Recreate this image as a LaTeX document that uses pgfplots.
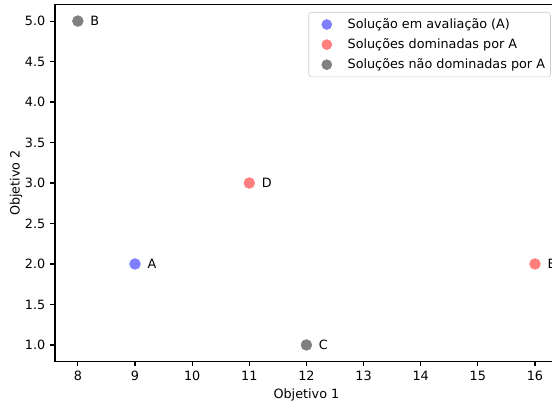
\documentclass[border=0pt]{standalone}
\usepackage{fontspec}
\setmainfont{DejaVu Sans}
\usepackage{pgfplots}
\pgfplotsset{compat=1.18}
\definecolor{cblue}{HTML}{7F7FFF}
\definecolor{cred}{HTML}{FF7F7F}
\definecolor{cgray}{HTML}{808080}
\begin{document}
\begin{tikzpicture}
\begin{axis}[
  scale only axis, width=362pt, height=256.5pt,
  xmin=7.6, xmax=16.4, ymin=0.8, ymax=5.2,
  xtick={8,9,...,16}, ytick={1,1.5,...,5},
  yticklabel style={/pgf/number format/.cd, fixed, fixed zerofill, precision=1},
  /pgf/number format/assume math mode=true,
  tick align=outside, tick pos=left, major tick length=3.5pt,
  tick style={black, line width=0.8pt},
  axis line style={black, line width=0.8pt},
  font=\fontsize{9.2}{11}\selectfont,
  xlabel={Objetivo 1}, ylabel={Objetivo 2},
  xlabel style={yshift=1pt}, ylabel style={yshift=-5pt},
  legend style={at={(0.986,0.980)}, anchor=north east, draw=black!20, rounded corners=2pt,
    fill=white, font=\fontsize{9.2}{11}\selectfont, inner xsep=2pt, inner ysep=2.5pt,
    row sep=1.8pt, /tikz/every odd column/.append style={column sep=2pt}},
  legend image code/.code={\path[draw=none,fill=none] (0pt,-3pt) rectangle (22pt,3pt);
    \fill (11pt,0pt) circle[radius=3.6pt];},
  legend cell align=left,
  nodes near coords={\pgfplotspointmeta},
  point meta=explicit symbolic,
  nodes near coords style={anchor=west, xshift=5.5pt, font=\fontsize{9.2}{11}\selectfont, text=black},
]
\addplot[only marks, mark=*, mark size=3.9pt, color=cblue] table[meta=label] {
x y label
9 2 A
};
\addlegendentry{Solução em avaliação (A)}
\addplot[only marks, mark=*, mark size=3.9pt, color=cred] table[meta=label] {
x y label
11 3 D
16 2 E
};
\addlegendentry{Soluções dominadas por A}
\addplot[only marks, mark=*, mark size=3.9pt, color=cgray] table[meta=label] {
x y label
8 5 B
12 1 C
};
\addlegendentry{Soluções não dominadas por A}
\coordinate (bl) at (rel axis cs:0,0);
\coordinate (tr) at (rel axis cs:1,1);
\end{axis}
\pgfresetboundingbox
\path[use as bounding box] ([xshift=-39.6pt,yshift=-29.5pt]bl) rectangle ([xshift=-4.2pt,yshift=3.5pt]tr);
\end{tikzpicture}
\end{document}
